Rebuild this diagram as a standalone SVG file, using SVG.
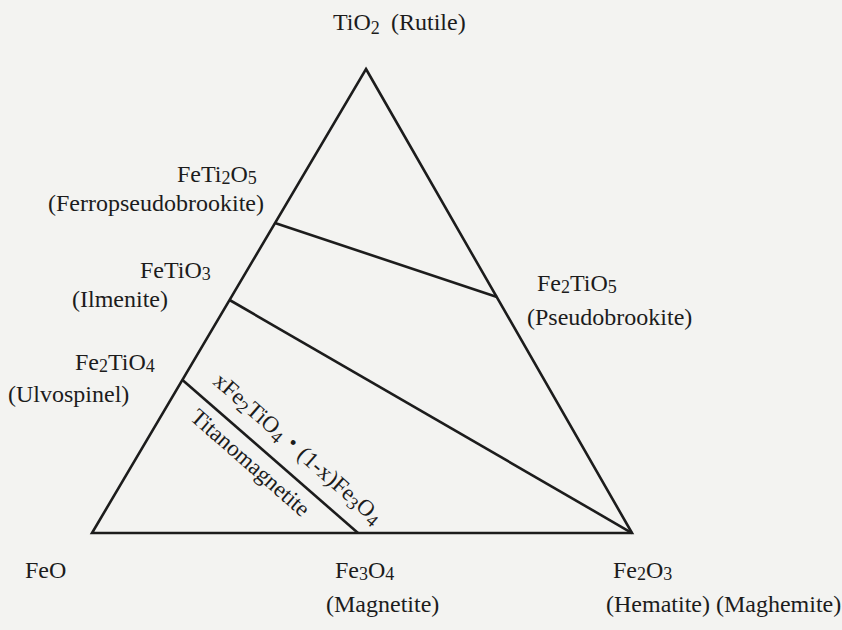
<svg xmlns="http://www.w3.org/2000/svg" width="842" height="630" viewBox="0 0 842 630">
<style>
  .ln { stroke:#1c1c1c; stroke-width:2.6; fill:none; stroke-linejoin:miter; stroke-linecap:butt; }
  .t { font-family:"Liberation Serif","Noto Sans CJK SC",serif; font-size:24px; fill:#1c1c1c; }
  .s { font-size:18px; }
  .r { font-size:23px; }
</style>
<rect x="0" y="0" width="842" height="630" fill="#f3f3f1"/>
<g id="connectors">
  <polygon id="triangle" class="ln" points="366,69 632,533 92,533"/>
  <line id="tie-ferropseudobrookite-pseudobrookite" class="ln" x1="275" y1="223" x2="497" y2="297"/>
  <line id="tie-ilmenite-hematite" class="ln" x1="229.6" y1="300" x2="632" y2="533"/>
  <line id="tie-ulvospinel-magnetite" class="ln" x1="182.5" y1="380" x2="358" y2="533"/>
</g>
<g id="node-tio2">
  <text class="t" x="333" y="30">TiO<tspan class="s" dy="4">2</tspan></text>
  <text class="t" x="391" y="30">(Rutile)</text>
</g>
<g id="node-feti2o5">
  <text class="t" x="177" y="182">FeTi<tspan class="s" dy="2">2</tspan><tspan dy="-2">O</tspan><tspan class="s" dy="2">5</tspan></text>
  <text class="t" x="48" y="211">(Ferropseudobrookite)</text>
</g>
<g id="node-fetio3">
  <text class="t" x="140" y="278">FeTiO<tspan class="s" dy="2">3</tspan></text>
  <text class="t" x="72" y="307">(Ilmenite)</text>
</g>
<g id="node-fe2tio4">
  <text class="t" x="75" y="370">Fe<tspan class="s" dy="2">2</tspan><tspan dy="-2">TiO</tspan><tspan class="s" dy="2">4</tspan></text>
  <text class="t" x="8" y="402">(Ulvospinel)</text>
</g>
<g id="node-fe2tio5">
  <text class="t" x="537" y="291">Fe<tspan class="s" dy="2">2</tspan><tspan dy="-2">TiO</tspan><tspan class="s" dy="2">5</tspan></text>
  <text class="t" x="527" y="325">(Pseudobrookite)</text>
</g>
<g id="node-feo">
  <text class="t" x="25" y="578">FeO</text>
</g>
<g id="node-fe3o4">
  <text class="t" x="335" y="578">Fe<tspan class="s" dy="2">3</tspan><tspan dy="-2">O</tspan><tspan class="s" dy="2">4</tspan></text>
  <text class="t" x="326" y="612">(Magnetite)</text>
</g>
<g id="node-fe2o3">
  <text class="t" x="613" y="578">Fe<tspan class="s" dy="2">2</tspan><tspan dy="-2">O</tspan><tspan class="s" dy="2">3</tspan></text>
  <text class="t" x="606" y="612">(Hematite) (Maghemite)</text>
</g>
<g id="node-titanomagnetite">
  <text class="t r" transform="translate(212,383) rotate(41.2)">xFe<tspan class="s" dy="4">2</tspan><tspan dy="-4">TiO</tspan><tspan class="s" dy="4">4</tspan><tspan dy="-4">・(1-x)Fe</tspan><tspan class="s" dy="4">3</tspan><tspan dy="-4">O</tspan><tspan class="s" dy="4">4</tspan></text>
  <text class="t r" transform="translate(189,419) rotate(41.2)">Titanomagnetite</text>
</g>
</svg>
